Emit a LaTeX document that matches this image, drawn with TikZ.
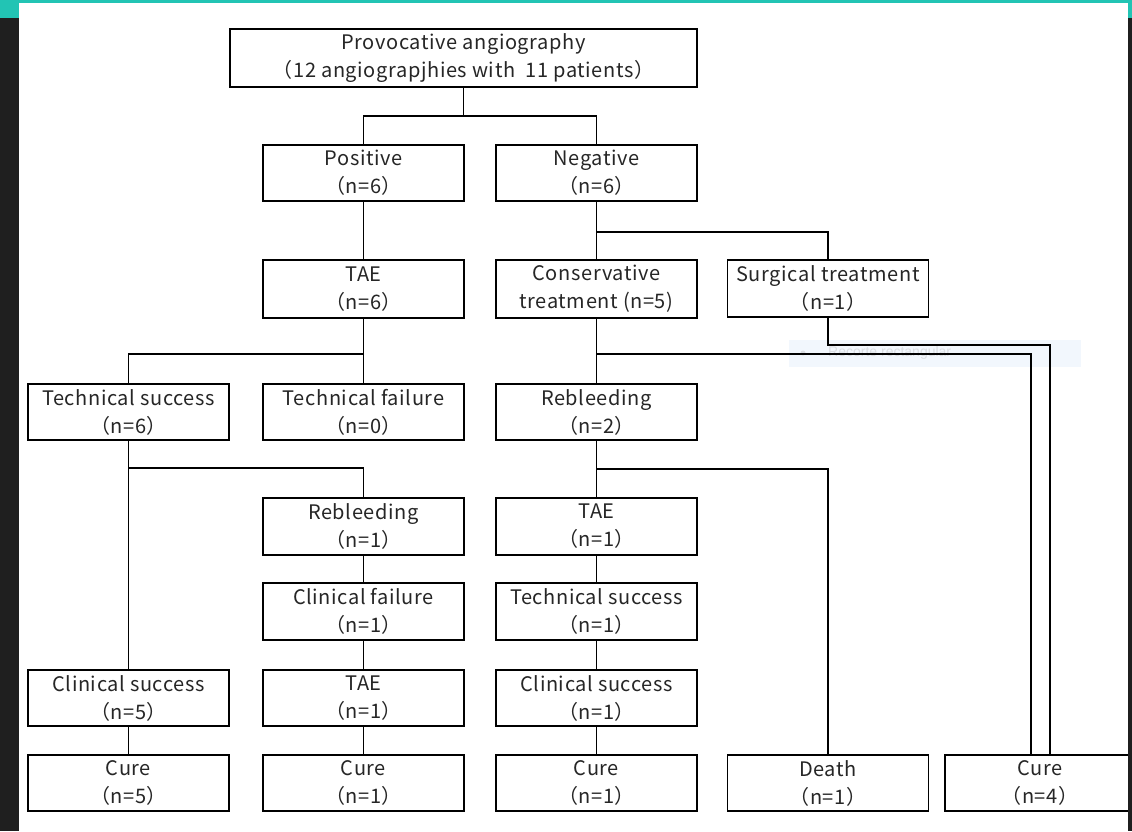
\documentclass[tikz,border=0pt]{standalone}
\usepackage{fontspec}
\newfontfamily\jpfont[LetterSpace=3]{Noto Sans CJK JP}
\definecolor{teal1}{HTML}{22C4B4}
\definecolor{darkbg}{HTML}{1F1F1F}
\definecolor{tipbg}{HTML}{F2F7FD}
\definecolor{tipfg}{HTML}{DADDE2}
\begin{document}
\begin{tikzpicture}[x=1pt,y=-1pt,
  box/.style={draw=black,line width=1.6pt,minimum width=201pt,minimum height=56pt,inner sep=0pt,align=center,font=\jpfont\fontsize{20}{28}\selectfont,text=black!85},
  conn/.style={draw=black,line width=1.6pt}]
\useasboundingbox (0,0) rectangle (1132,831);
\fill[white] (0,0) rectangle (1132,831);
% faint overlay tooltip (behind lines)
\node[fill=tipbg,minimum width=292pt,minimum height=27pt,inner sep=0pt,anchor=west] (tip) at (789,353.5) {};
\node[text=tipfg,font=\fontspec{Liberation Sans}\fontsize{14}{16}\selectfont,anchor=west,inner sep=0pt] (tiptext) at (828,353) {Recorte rectangular};
\node[fill=tipfg,circle,inner sep=0pt,minimum size=5pt] (tipdot) at (803,353) {};
% nodes
\node[box,minimum width=467pt,minimum height=58pt] (top) at (463.5,58) {Provocative angiography\\（12 angiograpjhies with\ \ 11 patients）};
\node[box] (pos) at (363.5,173) {Positive\\（n=6）};
\node[box] (neg) at (596.5,173) {Negative\\（n=6）};
\node[box,minimum height=58pt] (tae1) at (363.5,289) {TAE\\（n=6）};
\node[box,minimum height=58pt] (cons) at (596.5,289) {Conservative\\treatment (n=5)};
\node[box,minimum height=57pt] (surg) at (828,288.5) {Surgical treatment\\（n=1）};
\node[box] (ts1) at (128.5,412) {Technical success\\（n=6）};
\node[box] (tf) at (363.5,412) {Technical failure\\（n=0）};
\node[box] (reb2) at (596.5,412) {Rebleeding\\（n=2）};
\node[box,minimum height=57pt] (reb1) at (363.5,526.5) {Rebleeding\\（n=1）};
\node[box,minimum height=57pt] (tae2) at (596.5,526.5) {TAE\\（n=1）};
\node[box,minimum height=57pt] (cf) at (363.5,611.5) {Clinical failure\\（n=1）};
\node[box,minimum height=57pt] (ts2) at (596.5,611.5) {Technical success\\（n=1）};
\node[box] (cs1) at (128.5,698) {Clinical success\\（n=5）};
\node[box] (tae3) at (363.5,698) {TAE\\（n=1）};
\node[box] (cs2) at (596.5,698) {Clinical success\\（n=1）};
\node[box] (cure1) at (128.5,783) {Cure\\（n=5）};
\node[box] (cure2) at (363.5,783) {Cure\\（n=1）};
\node[box] (cure3) at (596.5,783) {Cure\\（n=1）};
\node[box] (death) at (828,783) {Death\\（n=1）};
\node[box,minimum width=190pt] (cure4) at (1040,783) {Cure\\（n=4）};
% connectors
\coordinate (j1) at (463.5,116);
\draw[conn] (top.south) -- (j1);
\draw[conn] (pos.north) |- (j1) -| (neg.north);
\draw[conn] (pos.south) -- (tae1.north);
\draw[conn] (neg.south) -- (cons.north);
\coordinate (j2) at (596.5,232);
\draw[conn] (j2) -| (surg.north);
\coordinate (j3) at (363.5,354);
\draw[conn] (tae1.south) -- (tf.north);
\draw[conn] (j3) -| (ts1.north);
\draw[conn] (cons.south) -- (reb2.north);
\coordinate (j4) at (596.5,354);
\draw[conn] (j4) -| ([xshift=-9pt]cure4.north);
\coordinate (j7) at (1050,345);
\draw[conn] (surg.south) |- (j7) -- ([xshift=10pt]cure4.north);
\draw[conn] (ts1.south) -- (cs1.north);
\coordinate (j5) at (128.5,468);
\draw[conn] (j5) -| (reb1.north);
\draw[conn] (reb1.south) -- (cf.north);
\draw[conn] (cf.south) -- (tae3.north);
\draw[conn] (tae3.south) -- (cure2.north);
\draw[conn] (reb2.south) -- (tae2.north);
\coordinate (j6) at (596.5,469);
\draw[conn] (j6) -| (death.north);
\draw[conn] (tae2.south) -- (ts2.north);
\draw[conn] (ts2.south) -- (cs2.north);
\draw[conn] (cs2.south) -- (cure3.north);
\draw[conn] (cs1.south) -- (cure1.north);
% frame
\fill[darkbg] (0,0) rectangle (19,831);
\fill[darkbg] (1128,0) rectangle (1132,831);
\fill[teal1] (0,0) rectangle (1132,3);
\fill[teal1] (0,0) rectangle (19,18);
\fill[teal1] (1128,0) rectangle (1132,18);
\end{tikzpicture}
\end{document}
